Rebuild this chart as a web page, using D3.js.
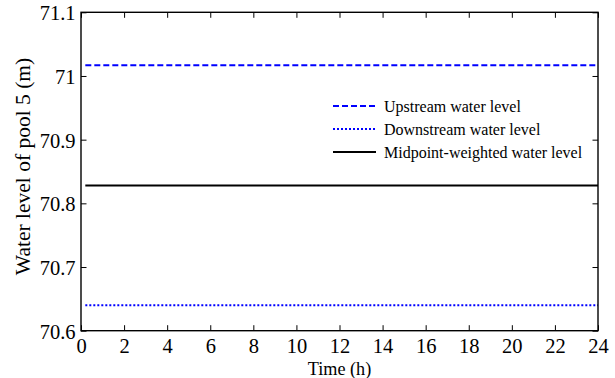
<!DOCTYPE html>
<html>
<head>
<meta charset="utf-8">
<script src="https://cdn.jsdelivr.net/npm/d3@7"></script>
<style>
  html, body { margin: 0; padding: 0; background: #fff; }
  svg { display: block; }
  svg text { font-family: "Liberation Serif", "Times New Roman", serif; fill: #000; }
</style>
</head>
<body>
<svg id="chart" width="615" height="378"></svg>
<script>
// Time span of each series (hours)
const timeRange = [0.2, 24];

// Water levels of pool 5 (m), constant over the day
const upstreamLevel = [71.017, 71.017];
const downstreamLevel = [70.64, 70.64];
const midpointLevel = [70.828, 70.828];

const xTicks = [0, 2, 4, 6, 8, 10, 12, 14, 16, 18, 20, 22, 24];
const yTicks = [70.6, 70.7, 70.8, 70.9, 71, 71.1];
const yTickLabels = ["70.6", "70.7", "70.8", "70.9", "71", "71.1"];

const seriesNames = ["Upstream water level", "Downstream water level", "Midpoint-weighted water level"];

const svg = d3.select("#chart");
const margin = { left: 81, right: 17, top: 12.3, bottom: 47.3 };
const W = 615, H = 378;
const iw = W - margin.left - margin.right;
const ih = H - margin.top - margin.bottom;

const x = d3.scaleLinear().domain([0, 24]).range([0, iw]);
const y = d3.scaleLinear().domain([70.6, 71.1]).range([ih, 0]);

const g = svg.append("g").attr("transform", `translate(${margin.left},${margin.top})`);

const series = [
  { name: seriesNames[0], values: upstreamLevel, color: "#0000ff", dash: "6,3", width: 2 },
  { name: seriesNames[1], values: downstreamLevel, color: "#0000ff", dash: "2,2", width: 2 },
  { name: seriesNames[2], values: midpointLevel, color: "#000000", dash: null, width: 2 }
];

const line = d3.line().x(d => x(d[0])).y(d => y(d[1]));

series.forEach(s => {
  const pts = timeRange.map((t, i) => [t, s.values[i]]);
  g.append("path")
    .datum(pts)
    .attr("d", line)
    .attr("fill", "none")
    .attr("stroke", s.color)
    .attr("stroke-width", s.width)
    .attr("stroke-dasharray", s.dash);
});

// Axes with inward ticks on all four sides
const tickLen = 5.5;
const fmtY = d => yTickLabels[yTicks.indexOf(d)];

const xBottom = g.append("g").attr("transform", `translate(0,${ih})`)
  .call(d3.axisBottom(x).tickValues(xTicks).tickSizeInner(-tickLen).tickSizeOuter(0));
const xTop = g.append("g")
  .call(d3.axisTop(x).tickValues(xTicks).tickSizeInner(-tickLen).tickSizeOuter(0).tickFormat(""));
const yLeft = g.append("g")
  .call(d3.axisLeft(y).tickValues(yTicks).tickSizeInner(-tickLen).tickSizeOuter(0).tickFormat(fmtY));
const yRight = g.append("g").attr("transform", `translate(${iw},0)`)
  .call(d3.axisRight(y).tickValues(yTicks).tickSizeInner(-tickLen).tickSizeOuter(0).tickFormat(""));

[xBottom, xTop, yLeft, yRight].forEach(a => {
  a.attr("font-family", null).attr("font-size", null);
  a.select(".domain").remove();
  a.selectAll("line").attr("stroke", "#000").attr("stroke-width", 1);
  a.selectAll("text").style("font-size", "20.5px").attr("fill", "#000");
});
xBottom.selectAll("text").attr("y", 0).attr("dy", null)
  .attr("transform", "translate(0,22.3)");
yLeft.selectAll("text").attr("x", -5.5).attr("dy", "0.36em");

// Frame
g.append("rect").attr("width", iw).attr("height", ih)
  .attr("fill", "none").attr("stroke", "#000").attr("stroke-width", 1.4);

// Axis titles
svg.append("text")
  .attr("x", margin.left + iw / 2).attr("y", 375)
  .attr("text-anchor", "middle").style("font-size", "18.2px").text("Time (h)");
svg.append("text")
  .attr("transform", "translate(30,166.5) rotate(-90)")
  .attr("text-anchor", "middle").style("font-size", "21.5px").text("Water level of pool 5 (m)");

// Legend
const leg = svg.append("g").attr("transform", "translate(333,106)");
series.forEach((s, i) => {
  const row = leg.append("g").attr("transform", `translate(0,${i * 23})`);
  row.append("line").attr("x1", 0).attr("x2", 43).attr("y1", 0).attr("y2", 0)
    .attr("stroke", s.color).attr("stroke-width", s.width).attr("stroke-dasharray", s.dash);
  row.append("text").attr("x", 51).attr("y", 0).attr("dy", "0.36em")
    .style("font-size", "16px").text(s.name);
});
</script>
</body>
</html>
